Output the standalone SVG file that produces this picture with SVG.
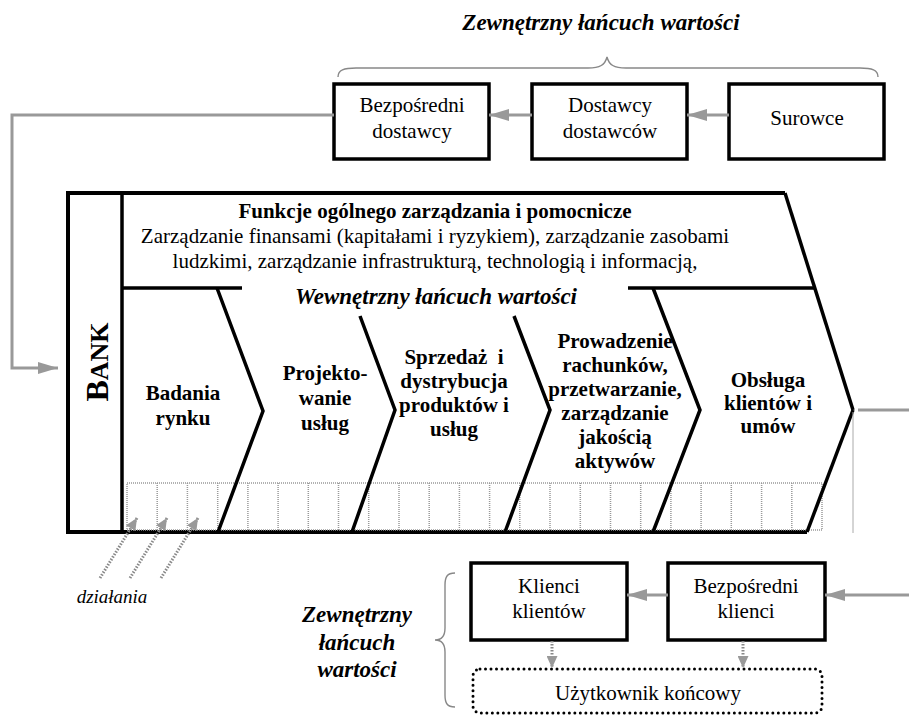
<svg xmlns="http://www.w3.org/2000/svg" width="909" height="716" viewBox="0 0 909 716">
  <style>
    .t { font-family: "Liberation Serif", "Times New Roman", serif; fill: #000; }
    .reg { font-size: 21px; }
    .bold { font-size: 21px; font-weight: bold; }
    .title { font-size: 23px; font-weight: bold; font-style: italic; }
    .box { fill: #fff; stroke: #000; stroke-width: 3.5; }
    .edge { fill: none; stroke: #000; stroke-width: 3.5; stroke-linejoin: miter; }
    .frame { fill: none; stroke: #000; stroke-width: 4; }
    .flow { fill: none; stroke: #999; stroke-width: 3; }
    .brace { fill: none; stroke: #888; stroke-width: 1.4; }
    .grid { fill: none; stroke: #999; stroke-width: 1.5; stroke-dasharray: 1 1; }
    .dots { fill: none; stroke: #888; stroke-width: 3; stroke-dasharray: 1.5 1.5; }
  </style>
  <defs>
    <marker id="arrow" viewBox="0 0 20 12" refX="20" refY="6" markerWidth="20" markerHeight="12" markerUnits="userSpaceOnUse" orient="auto">
      <path d="M0,0 L20,6 L0,12 z" fill="#999"/>
    </marker>
    <marker id="arrowSmall" viewBox="0 0 12 11" refX="12" refY="5.5" markerWidth="12" markerHeight="11" markerUnits="userSpaceOnUse" orient="auto">
      <path d="M0,0 L12,5.5 L0,11 z" fill="#999"/>
    </marker>
  </defs>

  <!-- upstream value chain heading and brace -->
  <g id="supplier-chain-label">
    <text class="t title" x="601" y="30" text-anchor="middle">Zewnętrzny łańcuch wartości</text>
    <path class="brace" d="M338,77 C338,70 344,68 356,68 L588,68 C600,68 605,65 607,57 C609,65 614,68 626,68 L860,68 C872,68 878,70 878,77"/>
  </g>

  <g id="direct-suppliers">
    <rect class="box" x="334" y="84" width="155" height="75"/>
    <text class="t reg" x="412" y="112" text-anchor="middle">Bezpośredni</text>
    <text class="t reg" x="412" y="138" text-anchor="middle">dostawcy</text>
  </g>
  <g id="suppliers-of-suppliers">
    <rect class="box" x="532" y="84" width="155" height="75"/>
    <text class="t reg" x="610" y="112" text-anchor="middle">Dostawcy</text>
    <text class="t reg" x="610" y="138" text-anchor="middle">dostawców</text>
  </g>
  <g id="raw-materials">
    <rect class="box" x="729" y="84" width="155" height="75"/>
    <text class="t reg" x="807" y="125" text-anchor="middle">Surowce</text>
  </g>

  <!-- bank value chain -->
  <g id="bank">
    <path class="frame" d="M785,193 L68,193 L68,532 L807,532"/>
    <line class="edge" x1="122" y1="193" x2="122" y2="532"/>
    <text class="t" font-weight="bold" transform="translate(108,362) rotate(-90)" text-anchor="middle"><tspan font-size="32">B</tspan><tspan font-size="26">ANK</tspan></text>
  </g>

  <g id="support-functions">
    <path class="edge" d="M785,193 L853,410"/>
    <line class="edge" x1="122" y1="288" x2="242" y2="288"/>
    <line class="edge" x1="628" y1="288" x2="815" y2="288"/>
    <text class="t bold" x="435" y="218" text-anchor="middle">Funkcje ogólnego zarządzania i pomocnicze</text>
    <text class="t reg" x="435" y="243" text-anchor="middle">Zarządzanie finansami (kapitałami i ryzykiem), zarządzanie zasobami</text>
    <text class="t reg" x="435" y="268" text-anchor="middle">ludzkimi, zarządzanie infrastrukturą, technologią i informacją,</text>
  </g>

  <g id="internal-chain-label">
    <text class="t title" x="436" y="304" text-anchor="middle">Wewnętrzny łańcuch wartości</text>
  </g>

  <!-- activity cells along the base -->
  <g id="activities-grid">
    <rect class="grid" x="127" y="483" width="695" height="47"/>
    <path class="grid" d="M157.2,483V530 M187.4,483V530 M217.7,483V530 M247.9,483V530 M278.1,483V530 M308.3,483V530 M338.5,483V530 M368.7,483V530 M399,483V530 M429.2,483V530 M459.4,483V530 M489.6,483V530 M519.8,483V530 M550,483V530 M580.3,483V530 M610.5,483V530 M640.7,483V530 M670.9,483V530 M701.1,483V530 M731.3,483V530 M761.6,483V530 M791.8,483V530"/>
  </g>

  <g id="market-research">
    <path class="edge" d="M217,288 L263,411 L218,532"/>
    <text class="t bold" x="183" y="400" text-anchor="middle">Badania</text>
    <text class="t bold" x="183" y="425" text-anchor="middle">rynku</text>
  </g>
  <g id="service-design">
    <path class="edge" d="M360,316 L395,410 L352,532"/>
    <text class="t bold" x="325" y="380" text-anchor="middle">Projekto-</text>
    <text class="t bold" x="325" y="405" text-anchor="middle">wanie</text>
    <text class="t bold" x="325" y="430" text-anchor="middle">usług</text>
  </g>
  <g id="sales-distribution">
    <path class="edge" d="M514,316 L550,410 L505,532"/>
    <text class="t bold" x="454" y="364" text-anchor="middle" style="white-space:pre">Sprzedaż  i</text>
    <text class="t bold" x="454" y="388" text-anchor="middle">dystrybucja</text>
    <text class="t bold" x="454" y="412" text-anchor="middle">produktów i</text>
    <text class="t bold" x="454" y="436" text-anchor="middle">usług</text>
  </g>
  <g id="account-processing">
    <path class="edge" d="M653,288 L700,410 L653,532"/>
    <text class="t bold" x="615" y="348" text-anchor="middle">Prowadzenie</text>
    <text class="t bold" x="615" y="372" text-anchor="middle">rachunków,</text>
    <text class="t bold" x="615" y="396" text-anchor="middle">przetwarzanie,</text>
    <text class="t bold" x="615" y="420" text-anchor="middle">zarządzanie</text>
    <text class="t bold" x="615" y="444" text-anchor="middle">jakością</text>
    <text class="t bold" x="615" y="468" text-anchor="middle">aktywów</text>
  </g>
  <g id="customer-service">
    <path class="edge" d="M853,410 L807,532"/>
    <text class="t bold" x="768" y="387" text-anchor="middle">Obsługa</text>
    <text class="t bold" x="768" y="410" text-anchor="middle">klientów i</text>
    <text class="t bold" x="768" y="433" text-anchor="middle">umów</text>
  </g>

  <g id="activities-label">
    <text class="t" font-size="19" font-style="italic" x="112" y="603" text-anchor="middle">działania</text>
  </g>

  <!-- downstream value chain -->
  <g id="customer-chain-label">
    <text class="t title" x="357" y="622" text-anchor="middle">Zewnętrzny</text>
    <text class="t title" x="357" y="650" text-anchor="middle">łańcuch</text>
    <text class="t title" x="357" y="677" text-anchor="middle">wartości</text>
    <path class="brace" d="M455,573 C447,573 445,577 445,585 L445,628 C445,636 442,640 435,640 C442,640 445,644 445,652 L445,695 C445,703 447,707 455,707"/>
  </g>
  <g id="customers-of-customers">
    <rect class="box" x="471" y="563" width="156" height="77"/>
    <text class="t reg" x="549" y="593" text-anchor="middle">Klienci</text>
    <text class="t reg" x="549" y="618" text-anchor="middle">klientów</text>
  </g>
  <g id="direct-customers">
    <rect class="box" x="668" y="563" width="157" height="77"/>
    <text class="t reg" x="746" y="593" text-anchor="middle">Bezpośredni</text>
    <text class="t reg" x="746" y="618" text-anchor="middle">klienci</text>
  </g>
  <g id="end-user">
    <rect x="473" y="669" width="349" height="44" rx="7" fill="none" stroke="#000" stroke-width="3" stroke-dasharray="0 5.5" stroke-linecap="round"/>
    <text class="t reg" x="648" y="700" text-anchor="middle">Użytkownik końcowy</text>
  </g>

  <!-- connectors -->
  <g id="connectors">
    <line class="flow" x1="729" y1="115" x2="687" y2="115" marker-end="url(#arrow)"/>
    <line class="flow" x1="532" y1="115" x2="489" y2="115" marker-end="url(#arrow)"/>
    <path class="flow" d="M334,115 L12,115 L12,368 L58,368" marker-end="url(#arrow)"/>
    <line class="flow" x1="858" y1="410" x2="909" y2="410"/>
    <line x1="853" y1="412" x2="853" y2="533" stroke="#aaa" stroke-width="1"/>
    <line class="flow" x1="909" y1="595" x2="825" y2="595" marker-end="url(#arrow)"/>
    <line class="flow" x1="668" y1="595" x2="627" y2="595" marker-end="url(#arrow)"/>
    <line class="dots" x1="552" y1="641" x2="552" y2="668" marker-end="url(#arrowSmall)"/>
    <line class="dots" x1="743" y1="641" x2="743" y2="668" marker-end="url(#arrowSmall)"/>
    <line class="dots" x1="100" y1="578" x2="137" y2="518" marker-end="url(#arrowSmall)"/>
    <line class="dots" x1="130" y1="578" x2="167" y2="518" marker-end="url(#arrowSmall)"/>
    <line class="dots" x1="161" y1="578" x2="198" y2="518" marker-end="url(#arrowSmall)"/>
  </g>
</svg>
